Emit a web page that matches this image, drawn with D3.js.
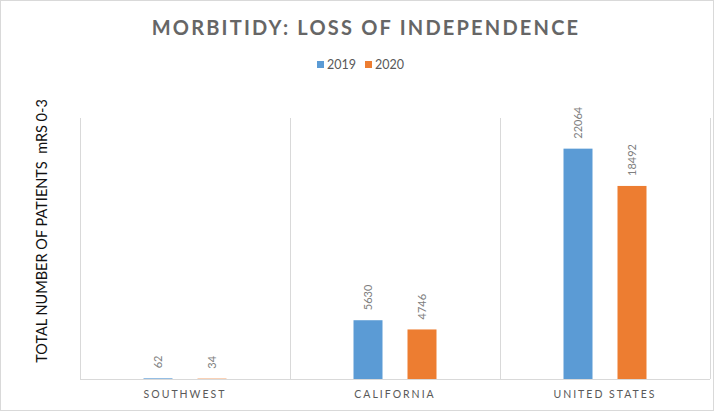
<!DOCTYPE html>
<html><head><meta charset="utf-8">
<script src="https://cdn.jsdelivr.net/npm/d3@7"></script>
<style>
html,body{margin:0;padding:0;background:#fff;}
svg{display:block;}
text{font-family:Lato,"Open Sans",sans-serif;}
</style></head>
<body>
<script>
const categories = ["SOUTHWEST", "CALIFORNIA", "UNITED STATES"];
const seriesNames = ["2019", "2020"];
const values2019 = [62, 5630, 22064];
const values2020 = [34, 4746, 18492];
const colors = ["#5b9bd5", "#ed7d31"];

const W = 714, H = 411;
const svg = d3.select("body").append("svg").attr("width", W).attr("height", H);
svg.append("rect").attr("x",0.5).attr("y",0.5).attr("width",W-1).attr("height",H-1)
  .attr("fill","#fff").attr("stroke","#d9d9d9");

const pL = 80, pR = 710, pT = 118, pB = 379;
const x = d3.scaleBand().domain(categories).range([pL, pR]);
const x1 = d3.scaleBand().domain(seriesNames).range([0, x.bandwidth()]).paddingInner(0.463).paddingOuter(1.176);
const y = d3.scaleLinear().domain([0, 25000]).range([pB, pT]);

// category dividers
const divs = [pL].concat(categories.map(c => x(c) + x.bandwidth()));
svg.selectAll("line.div").data(divs).enter().append("line")
  .attr("x1", d=>Math.round(d)+0.5).attr("x2", d=>Math.round(d)+0.5).attr("y1", pT).attr("y2", pB)
  .attr("stroke","#d9d9d9").attr("stroke-width",1);
svg.append("line").attr("x1",pL).attr("x2",pR).attr("y1",pB+0.5).attr("y2",pB+0.5)
  .attr("stroke","#d9d9d9");

const data = categories.map((c,i)=>({cat:c, vals:[{s:"2019",v:values2019[i]},{s:"2020",v:values2020[i]}]}));
const g = svg.selectAll("g.cat").data(data).enter().append("g").attr("transform", d=>`translate(${x(d.cat)},0)`);
g.selectAll("rect").data(d=>d.vals).enter().append("rect")
  .attr("x", d=>x1(d.s)).attr("width", x1.bandwidth())
  .attr("y", d=>y(d.v)).attr("height", d=>pB-y(d.v))
  .attr("fill", (d,i)=>colors[i]);
g.selectAll("text").data(d=>d.vals).enter().append("text")
  .attr("transform", d=>`translate(${x1(d.s)+x1.bandwidth()/2+4},${y(d.v)-10}) rotate(-90)`)
  .attr("text-anchor","start").attr("font-size", 11).attr("fill","#7f7f7f")
  .text(d=>d.v);

// x axis labels
svg.selectAll("text.cat").data(categories).enter().append("text")
  .attr("x", d=>x(d)+x.bandwidth()/2).attr("y", 398)
  .attr("text-anchor","middle").attr("font-size", 10.5).attr("fill","#595959")
  .attr("letter-spacing","2px").text(d=>d);

// title
svg.append("text").attr("x", 366).attr("y", 35).attr("text-anchor","middle")
  .attr("font-size", 20).attr("font-weight","bold").attr("fill","#666666")
  .attr("letter-spacing","2.2px").text("MORBITIDY: LOSS OF INDEPENDENCE");

// legend
const lg = svg.append("g");
const legX = [317, 365];
seriesNames.forEach((s,i)=>{
  lg.append("rect").attr("x", legX[i]).attr("y", 61).attr("width",7).attr("height",7).attr("fill",colors[i]);
  lg.append("text").attr("x", legX[i]+10).attr("y", 69).attr("font-size",12.5).attr("fill","#595959").text(s);
});

// y axis title
svg.append("text").attr("transform","translate(47,231) rotate(-90)")
  .attr("text-anchor","middle").attr("font-size",14.5).attr("fill","#111")
  .attr("xml:space","preserve")
  .text("TOTAL NUMBER OF PATIENTS  mRS 0-3");
</script>
</body></html>
